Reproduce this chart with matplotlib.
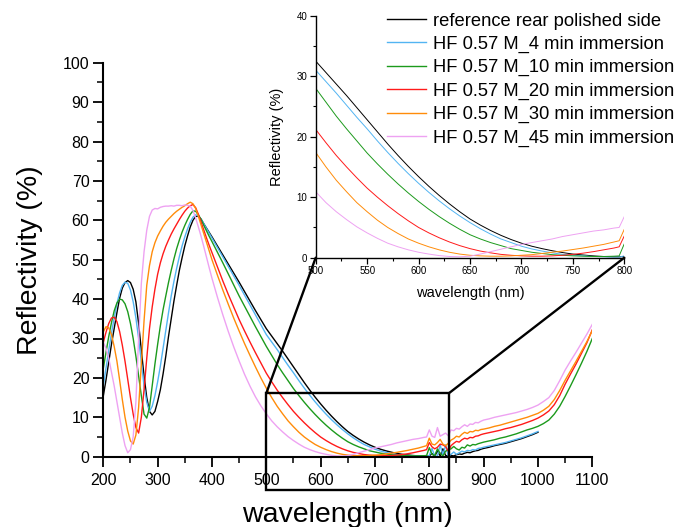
import numpy as np
import matplotlib
matplotlib.use("Agg")
import matplotlib.pyplot as plt
from matplotlib.patches import Rectangle, ConnectionPatch
from matplotlib.ticker import MultipleLocator

plt.rcParams['font.family'] = ['Liberation Sans', 'DejaVu Sans']

# ---------------- data ----------------
wl_uv = np.arange(200, 401, 5)          # 200..400 step 5
wl_vis = np.arange(410, 791, 10)        # 410..790 step 10
wl_nir = np.concatenate([np.arange(795, 896, 5), np.arange(900, 1101, 10)])
wavelength = np.concatenate([wl_uv, wl_vis, wl_nir])

labels = ["reference rear polished side",
          "HF 0.57 M_4 min immersion",
          "HF 0.57 M_10 min immersion",
          "HF 0.57 M_20 min immersion",
          "HF 0.57 M_30 min immersion",
          "HF 0.57 M_45 min immersion"]

ref_uv = [15.4, 19.5, 24.0, 28.5, 32.5, 36.5, 40.2, 42.8, 44.2, 44.7, 44.2, 42.5, 39.3, 33.8,
          27.0, 20.5, 15.0, 11.5, 10.6, 11.5, 14.0, 17.0, 21.0, 25.5, 30.5, 35.0, 39.5, 43.5,
          47.3, 50.5, 53.5, 56.0, 58.3, 60.0, 61.0, 61.0, 60.3, 59.1, 58.0, 56.9, 55.8]
ref_vis = [53.5, 51.2, 48.9, 46.6, 44.3, 41.9, 39.5, 37.1, 34.8, 32.5, 30.6, 28.7, 26.8,
           24.8, 22.8, 20.8, 18.8, 16.9, 15.1, 13.4, 11.8, 10.3, 8.9, 7.6, 6.4, 5.4, 4.5,
           3.7, 3.0, 2.4, 1.9, 1.5, 1.15, 0.85, 0.6, 0.45, 0.3, 0.2, 0.15]
ref_nir = [0.15, 0.2, 0.8, 0.1, 1.5, 0.2, 2.0, 0.3, 0.2, 0.3, 0.2, 0.5, 0.7, 0.6, 0.9, 1.1,
           1.0, 1.3, 1.5, 1.6, 1.9, 2.1, 2.4, 2.8, 3.1, 3.4, 3.8, 4.2, 4.6, 5.1, 5.6, 6.2]

m4_uv = [18.0, 22.5, 27.0, 31.3, 35.2, 38.8, 41.6, 43.5, 44.3, 44.0, 42.3, 39.3, 35.2, 30.0,
         24.0, 18.0, 13.8, 11.5, 12.8, 15.5, 19.0, 23.0, 27.5, 32.0, 36.5, 40.8, 44.5, 47.8,
         50.8, 53.5, 55.8, 57.8, 59.5, 60.8, 61.4, 61.1, 60.3, 59.1, 57.9, 56.7, 55.5]
m4_vis = [53.1, 50.7, 48.3, 45.9, 43.5, 41.0, 38.5, 36.0, 33.5, 31.0, 29.1, 27.2, 25.2,
          23.2, 21.3, 19.3, 17.4, 15.6, 13.9, 12.3, 10.8, 9.4, 8.1, 6.9, 5.8, 4.8, 3.9,
          3.1, 2.5, 1.9, 1.45, 1.1, 0.8, 0.55, 0.4, 0.3, 0.2, 0.15, 0.1]
m4_nir = [0.1, 0.3, 2.1, 0.1, 0.2, 3.0, 0.4, 3.0, 0.1, 0.6, 1.2, 0.6, 1.0, 1.4, 1.2, 1.6,
          1.5, 1.8, 1.7, 2.1, 2.2, 2.4, 2.7, 3.0, 3.3, 3.6, 4.0, 4.4, 4.8, 5.3, 5.8, 6.4]

m10_uv = [22.4, 26.5, 30.5, 34.0, 37.0, 39.0, 40.0, 39.8, 38.8, 36.8, 33.8, 30.0, 25.5, 20.5,
          15.5, 10.8, 9.8, 12.5, 18.0, 23.5, 28.5, 33.2, 37.3, 40.8, 44.2, 47.3, 50.2, 52.8,
          55.0, 57.0, 58.7, 60.2, 61.5, 62.4, 62.3, 61.4, 60.2, 58.7, 57.3, 55.9, 54.6]
m10_vis = [51.9, 49.2, 46.4, 43.6, 40.8, 38.2, 35.6, 33.0, 30.5, 28.0, 25.7, 23.4, 21.3,
           19.3, 17.3, 15.5, 13.8, 12.2, 10.7, 9.3, 8.0, 6.8, 5.7, 4.7, 3.8, 3.1, 2.5,
           2.0, 1.5, 1.2, 0.9, 0.7, 0.5, 0.4, 0.3, 0.25, 0.2, 0.2, 0.25]
m10_nir = [0.3, 2.3, 0.6, 0.3, 2.0, 0.8, 0.2, 1.4, 1.8, 2.0, 2.6, 2.0, 1.7, 2.4, 2.2, 3.0,
           2.7, 3.1, 3.0, 3.3, 3.5, 3.7, 4.0, 4.3, 4.7, 5.0, 5.4, 5.8, 6.3, 6.8, 7.2, 7.7,
           8.4, 9.3, 10.8, 12.8, 15.3, 18.0, 20.8, 23.7, 26.7, 30.0]

m20_uv = [29.0, 31.6, 33.8, 35.2, 35.4, 34.3, 31.8, 28.3, 24.2, 19.6, 15.0, 10.8, 7.4, 6.0,
          10.0, 17.0, 25.0, 32.5, 38.0, 42.5, 46.3, 49.2, 51.5, 53.4, 55.0, 56.5, 57.8, 59.0,
          60.2, 61.3, 62.3, 63.1, 63.7, 64.0, 63.2, 61.5, 59.5, 57.5, 55.5, 53.6, 51.8]
m20_vis = [48.2, 44.6, 41.2, 38.0, 34.8, 31.9, 29.1, 26.4, 23.8, 21.2, 19.0, 16.9, 15.0,
           13.2, 11.5, 10.0, 8.6, 7.3, 6.1, 5.0, 4.1, 3.3, 2.6, 2.0, 1.5, 1.1, 0.8,
           0.55, 0.4, 0.3, 0.25, 0.25, 0.3, 0.4, 0.55, 0.75, 1.0, 1.3, 1.6]
m20_nir = [1.8, 3.6, 2.5, 2.0, 2.4, 3.2, 3.0, 2.6, 1.4, 2.8, 3.4, 3.9, 3.7, 4.3, 4.7, 4.5,
           4.9, 4.8, 5.2, 5.3, 5.6, 5.8, 6.1, 6.4, 6.7, 7.1, 7.4, 7.8, 8.2, 8.7, 9.2, 9.8,
           10.6, 11.6, 13.2, 15.5, 18.4, 21.0, 23.5, 26.2, 28.9, 32.2]

m30_uv = [31.7, 33.0, 32.7, 31.0, 28.0, 24.3, 19.5, 14.5, 10.0, 6.5, 4.0, 3.2, 5.5, 12.5,
          23.5, 34.5, 43.5, 48.5, 52.0, 54.3, 56.0, 57.3, 58.5, 59.5, 60.3, 61.0, 61.7, 62.3,
          62.8, 63.3, 63.7, 64.2, 64.6, 64.2, 63.0, 61.0, 58.8, 56.6, 54.4, 52.2, 50.0]
m30_vis = [46.1, 42.3, 38.7, 35.2, 31.9, 28.7, 25.7, 22.8, 20.0, 17.4, 15.0, 12.8, 10.9,
           9.1, 7.6, 6.2, 5.0, 4.0, 3.1, 2.4, 1.8, 1.3, 0.9, 0.6, 0.4, 0.3, 0.25,
           0.25, 0.3, 0.4, 0.5, 0.7, 0.9, 1.1, 1.35, 1.6, 1.9, 2.2, 2.6]
m30_nir = [2.8, 4.7, 3.2, 3.0, 3.6, 4.4, 3.2, 2.8, 3.4, 4.2, 4.6, 5.2, 5.0, 5.7, 6.2, 5.9,
           6.4, 6.3, 6.7, 6.6, 6.9, 7.0, 7.3, 7.7, 8.0, 8.4, 8.8, 9.2, 9.6, 10.0, 10.5, 11.0,
           11.8, 12.8, 14.5, 16.8, 19.4, 21.8, 24.2, 26.7, 29.2, 32.0]

m45_uv = [29.0, 27.5, 25.0, 21.5, 18.0, 14.0, 10.0, 6.0, 2.8, 1.0, 1.8, 5.0, 14.0, 30.0,
          44.0, 52.0, 57.5, 61.0, 62.6, 63.0, 62.9, 63.3, 63.5, 63.6, 63.6, 63.7, 63.6, 63.8,
          63.8, 63.7, 63.9, 63.8, 63.6, 62.5, 60.6, 58.3, 55.9, 53.3, 50.6, 47.9, 45.3]
m45_vis = [40.5, 36.0, 31.8, 27.9, 24.3, 20.9, 17.9, 15.2, 12.9, 10.9, 9.1, 7.6, 6.3,
           5.1, 4.1, 3.2, 2.4, 1.8, 1.3, 0.9, 0.6, 0.35, 0.2, 0.15, 0.25, 0.6, 1.0,
           1.4, 1.8, 2.2, 2.5, 2.8, 3.1, 3.5, 3.8, 4.1, 4.4, 4.6, 4.9]
m45_nir = [5.0, 6.8, 5.2, 4.9, 7.4, 5.2, 5.6, 6.0, 5.3, 6.8, 6.6, 7.2, 7.0, 7.6, 8.1, 7.7,
           8.3, 8.2, 8.7, 8.6, 9.0, 9.3, 9.6, 10.0, 10.3, 10.6, 10.9, 11.2, 11.6, 12.0, 12.5,
           13.1, 14.0, 15.0, 16.8, 19.3, 22.0, 24.3, 26.5, 28.8, 31.1, 33.6]

series = [ref_uv + ref_vis + ref_nir,
          m4_uv + m4_vis + m4_nir,
          m10_uv + m10_vis + m10_nir,
          m20_uv + m20_vis + m20_nir,
          m30_uv + m30_vis + m30_nir,
          m45_uv + m45_vis + m45_nir]
colors = ['#000000', '#52B4F2', '#1C9A1C', '#FF1A1A', '#FF8C0A', '#EEA2F2']

# ---------------- figure ----------------
W, H = 678, 527
fig = plt.figure(figsize=(W / 100, H / 100), dpi=100)

def px_rect(x0, y0, x1, y1):
    return [x0 / W, 1 - y1 / H, (x1 - x0) / W, (y1 - y0) / H]

ax = fig.add_axes(px_rect(103.3, 62.7, 592.3, 456.7))
handles = []
for vals, c, lab in zip(series, colors, labels):
    x = wavelength[:len(vals)]
    ln, = ax.plot(x, vals, color=c, lw=1.0, label=lab)
    handles.append(ln)

ax.set_xlim(200, 1100)
ax.set_ylim(0, 100)
ax.xaxis.set_major_locator(MultipleLocator(100))
ax.xaxis.set_minor_locator(MultipleLocator(50))
ax.yaxis.set_major_locator(MultipleLocator(10))
ax.yaxis.set_minor_locator(MultipleLocator(5))
for s in ['top', 'right']:
    ax.spines[s].set_visible(False)
for s in ['left', 'bottom']:
    ax.spines[s].set_linewidth(1.5)
ax.tick_params(which='major', direction='out', length=7, width=1.3, labelsize=11.5)
ax.tick_params(which='minor', direction='out', length=4, width=1.1)
ax.tick_params(axis='x', which='major', pad=5)
ax.tick_params(axis='y', which='major', pad=3)
ax.set_xlabel("wavelength (nm)", fontsize=20.5, labelpad=10)
ax.set_ylabel("Reflectivity (%)", fontsize=20.5, labelpad=14)

# ---------------- inset ----------------
axin = fig.add_axes(px_rect(315.7, 15.7, 624.3, 257.7))
axin.patch.set_alpha(0)
for vals, c in zip(series, colors):
    x = wavelength[:len(vals)]
    axin.plot(x, vals, color=c, lw=0.7)
axin.set_xlim(500, 800)
axin.set_ylim(0, 40)
axin.xaxis.set_major_locator(MultipleLocator(50))
axin.xaxis.set_minor_locator(MultipleLocator(25))
axin.yaxis.set_major_locator(MultipleLocator(10))
axin.yaxis.set_minor_locator(MultipleLocator(5))
for s in ['top', 'right']:
    axin.spines[s].set_visible(False)
for s in ['left', 'bottom']:
    axin.spines[s].set_linewidth(1.0)
axin.tick_params(which='major', direction='out', length=4, width=0.9, labelsize=7, pad=2)
axin.tick_params(which='minor', direction='out', length=2, width=0.8)
axin.set_xlabel("wavelength (nm)", fontsize=10.5, labelpad=7)
axin.set_ylabel("Reflectivity (%)", fontsize=10.5, labelpad=9)

# zoom box and connectors
rect = Rectangle((500, -8.5), 336, 24.6, fill=False, lw=1.7, edgecolor='black',
                 clip_on=False, zorder=5)
ax.add_patch(rect)
for xa, xb in [(500, 500), (836, 800)]:
    con = ConnectionPatch(xyA=(xa, 16.1), coordsA=ax.transData,
                          xyB=(xb, 0), coordsB=axin.transData,
                          color='black', lw=1.7, zorder=6)
    fig.add_artist(con)

# legend
fig.legend(handles=handles, labels=labels, loc='upper left',
           bbox_to_anchor=(386.7 / W, 1 - 12.5 / H), frameon=False,
           fontsize=13.2, handlelength=2.16, handletextpad=0.34,
           labelspacing=0.34, borderpad=0, borderaxespad=0)

fig.savefig("out.png", dpi=100)
